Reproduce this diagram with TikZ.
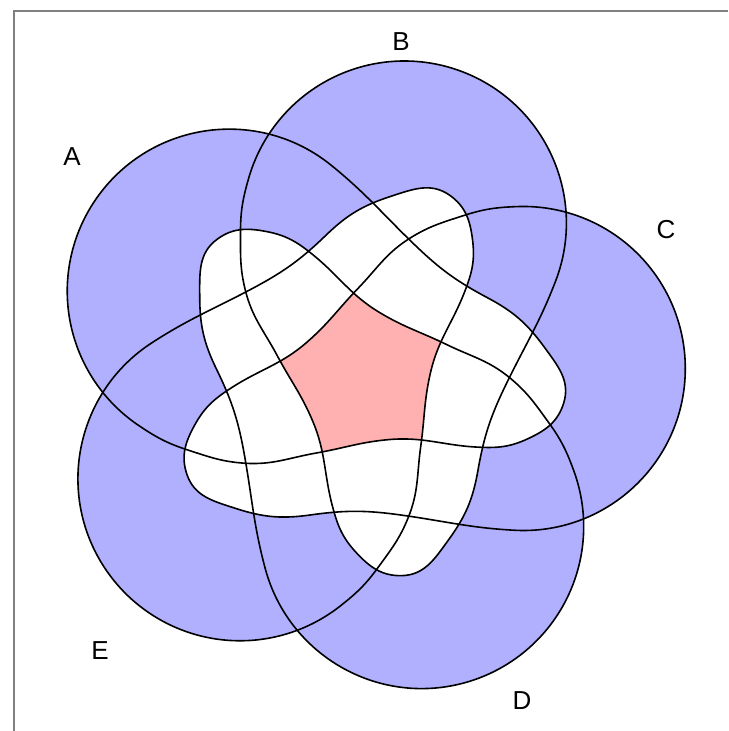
\documentclass[tikz,border=0pt]{standalone}
\usepackage{fontspec}
\setmainfont{Liberation Sans}
\usepackage{tikz}
\definecolor{setblue}{RGB}{176,176,255}
\definecolor{setpink}{RGB}{255,176,176}
\newcommand{\vennshape}{(-98.5,-190.9) arc[start angle=195, end angle=380, radius=162]
  to[out=110, in=-54]  (185,-45)
  to[out=126, in=-40]  (147,-1)
  to[out=140, in=-26]  (83,33)
  to[out=154, in=-31]  (16,65)
  to[out=149, in=-39]  (-51,123)
  to[out=141, in=-11]  (-97,146)
  to[out=169, in=37]   (-147,138)
  to[out=217, in=90]   (-164,82)
  to[out=270, in=116]  (-147,8)
  to[out=296, in=100]  (-119,-79)
  to[out=280, in=105]  cycle}

\begin{document}
\begin{tikzpicture}[x=0.5pt, y=0.5pt,
    setA/.style={shift={(363.7,353.4)}, rotate=216},
    setB/.style={shift={(363.7,353.4)}, rotate=144},
    setC/.style={shift={(363.7,353.4)}, rotate=72},
    setD/.style={shift={(363.7,353.4)}, rotate=0},
    setE/.style={shift={(363.7,353.4)}, rotate=288},
    outline/.style={draw=black, line width=0.8pt},
    lbl/.style={font=\fontsize{13}{15}\selectfont, inner sep=0pt}]

  \useasboundingbox (0,0) rectangle (728,731);

  \foreach \s in {A,B,C,D,E}
    \fill[setblue, set\s] \vennshape;

  \foreach \p/\q in {A/C, A/D, B/D, B/E, C/E} {
    \begin{scope}
      \clip[set\p] \vennshape;
      \fill[white, set\q] \vennshape;
    \end{scope}
  }

  \begin{scope}
    \clip[setA] \vennshape;
    \clip[setB] \vennshape;
    \clip[setC] \vennshape;
    \clip[setD] \vennshape;
    \fill[setpink, setE] \vennshape;
  \end{scope}

  \foreach \s in {A,B,C,D,E}
    \draw[outline, set\s] \vennshape;

  \node[lbl] (labA) at (72,574)  {A};
  \node[lbl] (labB) at (401,689) {B};
  \node[lbl] (labC) at (666,501) {C};
  \node[lbl] (labD) at (522,30)  {D};
  \node[lbl] (labE) at (100,80)  {E};

  \draw[gray, line width=1pt] (14,0) -- (14,720) -- (728,720);
\end{tikzpicture}
\end{document}
